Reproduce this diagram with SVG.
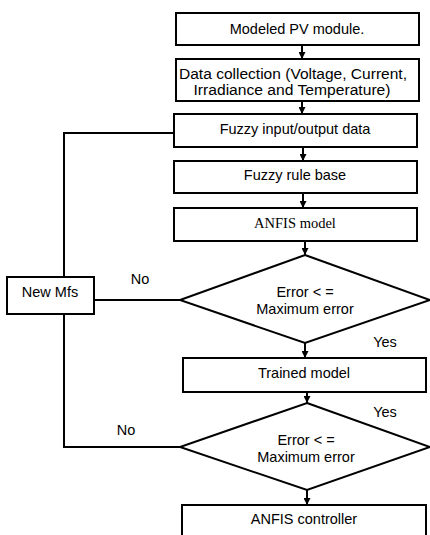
<svg xmlns="http://www.w3.org/2000/svg" width="430" height="535" viewBox="0 0 430 535">
<style>
.box{fill:#fff;stroke:#000;stroke-width:2}
.ln{fill:none;stroke:#000;stroke-width:2}
.t{font-family:"Liberation Sans",Arial,sans-serif;font-size:14.5px;fill:#000;text-anchor:middle}
.s{font-family:"Liberation Serif","Times New Roman",serif;font-size:14.5px;fill:#000;text-anchor:middle}
</style>
<defs>
<marker id="a" viewBox="0 0 8 8" refX="8" refY="4" markerWidth="7" markerHeight="7" orient="auto" markerUnits="userSpaceOnUse">
<path d="M0,0 L8,4 L0,8 z" fill="#000"/>
</marker>
</defs>
<g id="connectors">
<line class="ln" x1="302" y1="45" x2="302" y2="59" marker-end="url(#a)"/>
<line class="ln" x1="302" y1="101" x2="302" y2="114" marker-end="url(#a)"/>
<line class="ln" x1="303" y1="147" x2="303" y2="161" marker-end="url(#a)"/>
<line class="ln" x1="303" y1="193" x2="303" y2="208" marker-end="url(#a)"/>
<line class="ln" x1="305" y1="241" x2="305" y2="255" marker-end="url(#a)"/>
<line class="ln" x1="305" y1="343" x2="305" y2="358" marker-end="url(#a)"/>
<line class="ln" x1="307" y1="392" x2="307" y2="403" marker-end="url(#a)"/>
<line class="ln" x1="307" y1="490" x2="307" y2="505" marker-end="url(#a)"/>
<polyline class="ln" points="174,133 64,133 64,277"/>
<line class="ln" x1="94" y1="300" x2="180" y2="300"/>
<polyline class="ln" points="180,447 64,447 64,314"/>
<text class="t" x="140" y="284">No</text>
<text class="t" x="385" y="347">Yes</text>
<text class="t" x="126" y="435">No</text>
<text class="t" x="385" y="417">Yes</text>
</g>
<g id="n1"><rect class="box" x="176" y="13" width="243" height="32"/><text class="t" x="297" y="34">Modeled PV module.</text></g>
<g id="n2"><rect class="box" x="176" y="59" width="243" height="42"/><text class="t" style="font-size:14px" x="293" y="79" textLength="228" lengthAdjust="spacingAndGlyphs">Data collection (Voltage, Current,</text><text class="t" style="font-size:14px" x="292" y="95" textLength="197" lengthAdjust="spacingAndGlyphs">Irradiance and Temperature)</text></g>
<g id="n3"><rect class="box" x="174" y="114" width="243" height="33"/><text class="t" x="295" y="134">Fuzzy input/output data</text></g>
<g id="n4"><rect class="box" x="174" y="161" width="243" height="32"/><text class="t" x="295" y="180">Fuzzy rule base</text></g>
<g id="n5"><rect class="box" x="174" y="208" width="243" height="33"/><text class="s" x="295" y="228">ANFIS model</text></g>
<g id="d1"><polygon class="box" points="305,255 430,300 305,343 180,300"/><text class="t" x="305" y="297">Error &lt; =</text><text class="t" x="305" y="314">Maximum error</text></g>
<g id="mfs"><rect class="box" x="7" y="277" width="87" height="37"/><text class="t" x="50" y="297">New Mfs</text></g>
<g id="n6"><rect class="box" x="183" y="358" width="243" height="34"/><text class="t" x="304" y="378">Trained model</text></g>
<g id="d2"><polygon class="box" points="307,403 430,447 307,490 180,447"/><text class="t" x="306" y="445">Error &lt; =</text><text class="t" x="306" y="462">Maximum error</text></g>
<g id="n7"><rect class="box" x="182" y="505" width="244" height="36"/><text class="t" x="304" y="524">ANFIS controller</text></g>
</svg>
